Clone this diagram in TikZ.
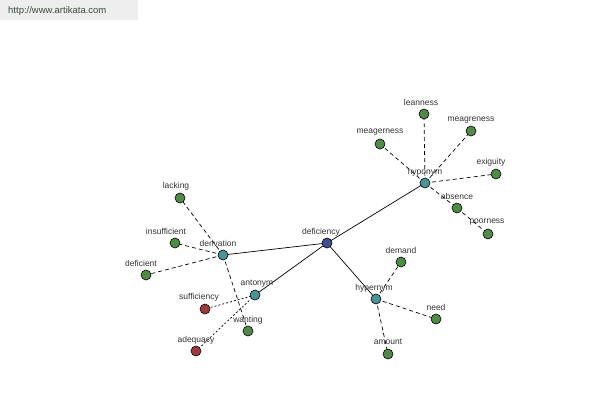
\documentclass[tikz,border=0pt]{standalone}
\usepackage{fontspec}
\setmainfont{Liberation Sans}
\usetikzlibrary{backgrounds}
\definecolor{gnode}{HTML}{4F8A47}
\definecolor{tnode}{HTML}{4A9496}
\definecolor{rnode}{HTML}{9E3A3F}
\definecolor{nnode}{HTML}{414F92}
\definecolor{lbl}{HTML}{333333}
\definecolor{wmtext}{HTML}{3A4A3A}
\definecolor{wmbox}{HTML}{EEEEEE}
\begin{document}
\begin{tikzpicture}[x=1pt,y=-1pt,
  vtx/.style={circle,draw=black,line width=0.6pt,minimum size=10pt,inner sep=0pt},
  gv/.style={vtx,fill=gnode},
  tv/.style={vtx,fill=tnode},
  rv/.style={vtx,fill=rnode},
  nv/.style={vtx,fill=nnode},
  lab/.style={font=\fontsize{8.5}{10}\selectfont,text=lbl,inner sep=0pt},
  solidedge/.style={line width=0.7pt},
  dashedge/.style={line width=0.7pt,dash pattern=on 4pt off 3pt},
  dotedge/.style={line width=0.7pt,dash pattern=on 2pt off 2pt}]
\useasboundingbox (0,0) rectangle (600,400);
% nodes
\node[nv] (deficiency) at (327,243) {};
\node[tv] (hyponym) at (425,183) {};
\node[tv] (derivation) at (223,255) {};
\node[tv] (antonym) at (255,295) {};
\node[tv] (hypernym) at (376,299) {};
\node[gv] (leanness) at (424,114) {};
\node[gv] (meagreness) at (471,131) {};
\node[gv] (meagerness) at (380,144) {};
\node[gv] (exiguity) at (496,174) {};
\node[gv] (absence) at (457,208) {};
\node[gv] (poorness) at (488,234) {};
\node[gv] (lacking) at (180,198) {};
\node[gv] (insufficient) at (175,243) {};
\node[gv] (deficient) at (146,275) {};
\node[gv] (wanting) at (248,331) {};
\node[rv] (sufficiency) at (205,309) {};
\node[rv] (adequacy) at (196,351) {};
\node[gv] (demand) at (401,262) {};
\node[gv] (need) at (436,319) {};
\node[gv] (amount) at (388,354) {};
\begin{scope}[on background layer]
\fill[white] (0,0) rectangle (600,400);
\fill[wmbox] (0,0) rectangle (138,20);
\draw[solidedge] (deficiency.center) -- (hyponym.center);
\draw[solidedge] (deficiency.center) -- (derivation.center);
\draw[solidedge] (deficiency.center) -- (antonym.center);
\draw[solidedge] (deficiency.center) -- (hypernym.center);
\draw[dashedge] (hyponym.center) -- (leanness.center);
\draw[dashedge] (hyponym.center) -- (meagreness.center);
\draw[dashedge] (hyponym.center) -- (meagerness.center);
\draw[dashedge] (hyponym.center) -- (exiguity.center);
\draw[dashedge] (hyponym.center) -- (absence.center);
\draw[dashedge] (absence.center) -- (poorness.center);
\draw[dashedge] (derivation.center) -- (lacking.center);
\draw[dashedge] (derivation.center) -- (insufficient.center);
\draw[dashedge] (derivation.center) -- (deficient.center);
\draw[dashedge] (derivation.center) -- (wanting.center);
\draw[dotedge] (antonym.center) -- (sufficiency.center);
\draw[dotedge] (antonym.center) -- (adequacy.center);
\draw[dashedge] (hypernym.center) -- (demand.center);
\draw[dashedge] (hypernym.center) -- (need.center);
\draw[dashedge] (hypernym.center) -- (amount.center);
\end{scope}
\node[font=\fontsize{9.5}{11}\selectfont,text=wmtext,anchor=west,inner sep=0pt] (wm) at (8,11) {http://www.artikata.com};
% labels
\node[lab] (l1) at (321,232) {deficiency};
\node[lab] (l2) at (425,172) {hyponym};
\node[lab] (l3) at (421,102) {leanness};
\node[lab] (l4) at (471,120) {meagreness};
\node[lab] (l5) at (380,132) {meagerness};
\node[lab] (l6) at (491,162) {exiguity};
\node[lab] (l7) at (457,196) {absence};
\node[lab] (l8) at (487,222) {poorness};
\node[lab] (l9) at (218,243) {derivation};
\node[lab] (l10) at (176,186) {lacking};
\node[lab] (l11) at (166,231) {insufficient};
\node[lab] (l12) at (141,263) {deficient};
\node[lab] (l13) at (257,284) {antonym};
\node[lab] (l14) at (199,297) {sufficiency};
\node[lab] (l15) at (196,340) {adequacy};
\node[lab] (l16) at (248,320) {wanting};
\node[lab] (l17) at (374,288) {hypernym};
\node[lab] (l18) at (401,250) {demand};
\node[lab] (l19) at (436,307) {need};
\node[lab] (l20) at (388,342) {amount};
\end{tikzpicture}
\end{document}
